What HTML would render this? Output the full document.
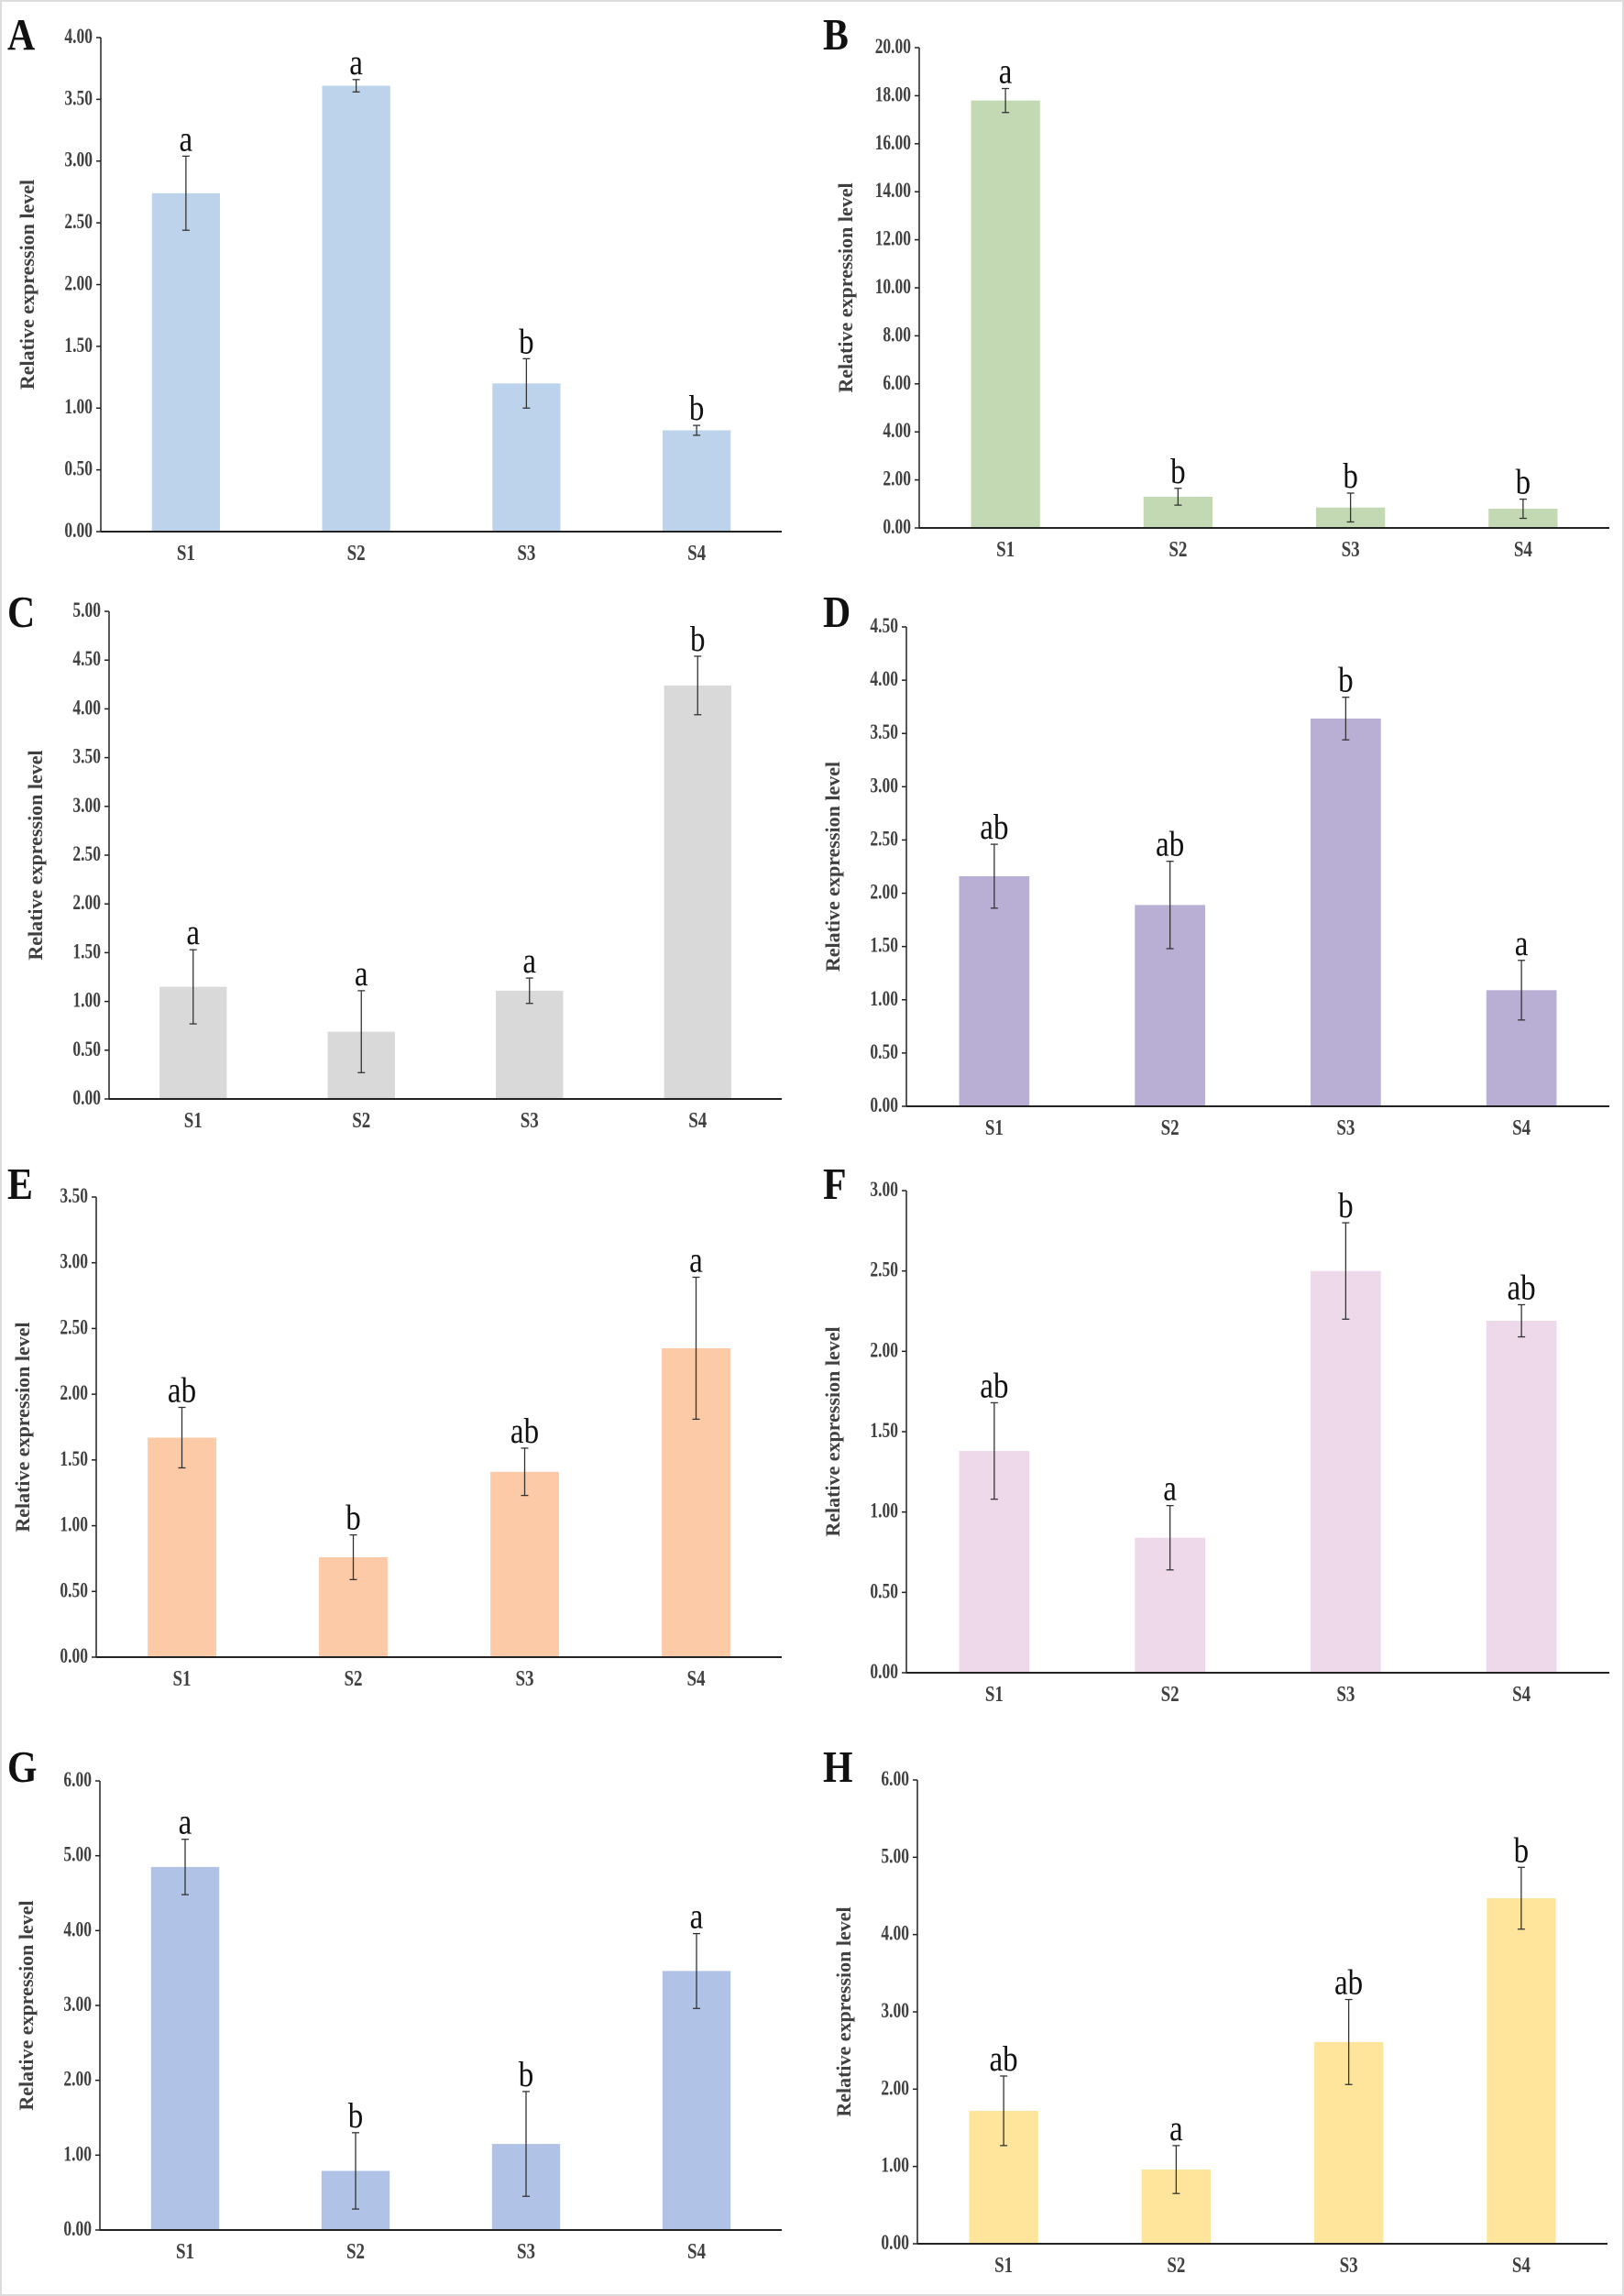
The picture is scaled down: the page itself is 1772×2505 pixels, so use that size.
<!DOCTYPE html>
<html><head><meta charset="utf-8"><style>
html,body{margin:0;padding:0;background:#fff;}
svg{display:block;}
svg text{font-family:"Liberation Serif","Times New Roman",serif;}
</style></head><body>
<svg id="fig" width="1772" height="2505" viewBox="0 0 1772 2505" font-family="Liberation Serif, Times New Roman, serif">
<rect x="1" y="1" width="1770" height="2503" fill="#fff" stroke="#dcdcdc" stroke-width="2"/>
</svg>
<script>
const categories = ["S1","S2","S3","S4"];
const valuesA = [2.74,3.61,1.20,0.82];
const errorsA = [0.30,0.05,0.20,0.04];
const lettersA = ["a","a","b","b"];
const valuesB = [17.8,1.30,0.85,0.80];
const errorsB = [0.50,0.35,0.60,0.40];
const lettersB = ["a","b","b","b"];
const valuesC = [1.15,0.69,1.11,4.24];
const errorsC = [0.38,0.42,0.13,0.30];
const lettersC = ["a","a","a","b"];
const valuesD = [2.16,1.89,3.64,1.09];
const errorsD = [0.30,0.41,0.20,0.28];
const lettersD = ["ab","ab","b","a"];
const valuesE = [1.67,0.76,1.41,2.35];
const errorsE = [0.23,0.17,0.18,0.54];
const lettersE = ["ab","b","ab","a"];
const valuesF = [1.38,0.84,2.50,2.19];
const errorsF = [0.30,0.20,0.30,0.10];
const lettersF = ["ab","a","b","ab"];
const valuesG = [4.85,0.79,1.15,3.46];
const errorsG = [0.37,0.51,0.70,0.50];
const lettersG = ["a","b","b","a"];
const valuesH = [1.72,0.96,2.61,4.47];
const errorsH = [0.45,0.31,0.55,0.40];
const lettersH = ["ab","a","ab","b"];
const yMaxes = [4,20,5,4.5,3.5,3,6,6];
const ySteps = [0.5,2,0.5,0.5,0.5,0.5,1,1];

const panels = [
 {id:"A",v:valuesA,e:errorsA,l:lettersA,color:"#bdd3ec",ax:110,top:41,base:580,end:853,lx:8,ly:54},
 {id:"B",v:valuesB,e:errorsB,l:lettersB,color:"#c3d9b4",ax:1003,top:52,base:576,end:1756,lx:898,ly:54},
 {id:"C",v:valuesC,e:errorsC,l:lettersC,color:"#d9d9d9",ax:119,top:667,base:1199,end:853,lx:8,ly:684},
 {id:"D",v:valuesD,e:errorsD,l:lettersD,color:"#b9afd5",ax:989,top:684,base:1207,end:1756,lx:898,ly:684},
 {id:"E",v:valuesE,e:errorsE,l:lettersE,color:"#fdcaa7",ax:105,top:1306,base:1808,end:853,lx:8,ly:1308},
 {id:"F",v:valuesF,e:errorsF,l:lettersF,color:"#eed9eb",ax:989,top:1299,base:1825,end:1756,lx:898,ly:1308},
 {id:"G",v:valuesG,e:errorsG,l:lettersG,color:"#b0c2e6",ax:109,top:1943,base:2433,end:853,lx:8,ly:1944},
 {id:"H",v:valuesH,e:errorsH,l:lettersH,color:"#fee59b",ax:1001,top:1942,base:2448,end:1754,lx:898,ly:1944}
];
const NS="http://www.w3.org/2000/svg";
const svg=document.getElementById("fig");
const FF="Liberation Serif, Times New Roman, serif";
function mk(tag,attrs,parent,txt){const el=document.createElementNS(NS,tag);for(const k in attrs)el.setAttribute(k,attrs[k]);if(tag==="text")el.setAttribute("font-family",FF);if(txt!==undefined)el.textContent=txt;parent.appendChild(el);return el;}

panels.forEach((p,pi)=>{
  const g=mk("g",{},svg);
  
  
  const ymax=yMaxes[pi], step=ySteps[pi];
  const yS=v=>p.base-(v/ymax)*(p.base-p.top);
  const band=(p.end-p.ax)/4;
  const xC=i=>p.ax+(i+0.5)*band;
  const bw=band*0.4;
  const pl=mk("text",{x:p.lx,y:p.ly,"font-size":44,"font-weight":"bold",fill:"#111",transform:`translate(${p.lx},${p.ly}) scale(0.95,1.1) translate(${-p.lx},${-p.ly})`},g,p.id);
  
  
  p.v.forEach((v,i)=>{
    const r=mk("rect",{x:xC(i)-bw/2,y:yS(v),width:bw,height:p.base-yS(v),fill:p.color},g);
    
    
  });
  p.v.forEach((v,i)=>{
    const e=p.e[i], x=xC(i), y1=yS(v+e), y2=yS(Math.max(0,v-e));
    const eg=mk("g",{stroke:"#333","stroke-width":1.3},g);
    
    
    mk("line",{x1:x,x2:x,y1:y1,y2:y2},eg);
    mk("line",{x1:x-4,x2:x+4,y1:y1,y2:y1},eg);
    mk("line",{x1:x-4,x2:x+4,y1:y2,y2:y2},eg);
    const ly=y1-6;
    const t=mk("text",{x:x,y:ly,"font-size":33,"text-anchor":"middle",fill:"#111",transform:`translate(${x},${ly}) scale(1,1.2) translate(${-x},${-ly})`},g,p.l[i]);
    
    
  });
  const ya=mk("line",{x1:p.ax,x2:p.ax,y1:p.top,y2:p.base,stroke:"#222","stroke-width":1.5},g);
  
  
  const n=Math.round(ymax/step);
  for(let k=0;k<=n;k++){
    const val=k*step, y=yS(val);
    mk("line",{x1:p.ax-5,x2:p.ax,y1:y,y2:y,stroke:"#222","stroke-width":1.5},g);
    const t=mk("text",{x:p.ax-9,y:y+6,"font-size":19,"font-weight":"bold","text-anchor":"end",fill:"#404040",transform:`translate(${p.ax-9},${y+6}) scale(0.92,1.2) translate(${-(p.ax-9)},${-(y+6)})`},g,val.toFixed(2));
    
    
  }
  const xa=mk("line",{x1:p.ax,x2:p.end,y1:p.base,y2:p.base,stroke:"#222","stroke-width":2},g);
  
  
  categories.forEach((c,i)=>{
    const t=mk("text",{x:xC(i),y:p.base+31,"font-size":20,"font-weight":"bold","text-anchor":"middle",fill:"#404040",transform:`translate(${xC(i)},${p.base+31}) scale(0.95,1.2) translate(${-xC(i)},${-(p.base+31)})`},g,c);
    
    
  });
  const tx=p.ax-73, ty=(p.top+p.base)/2;
  const yt=mk("text",{x:tx,y:ty,"font-size":22,"font-weight":"bold","text-anchor":"middle",fill:"#404040",transform:`rotate(-90 ${tx} ${ty})`},g,"Relative expression level");
  
  
});
</script>
</body></html>
